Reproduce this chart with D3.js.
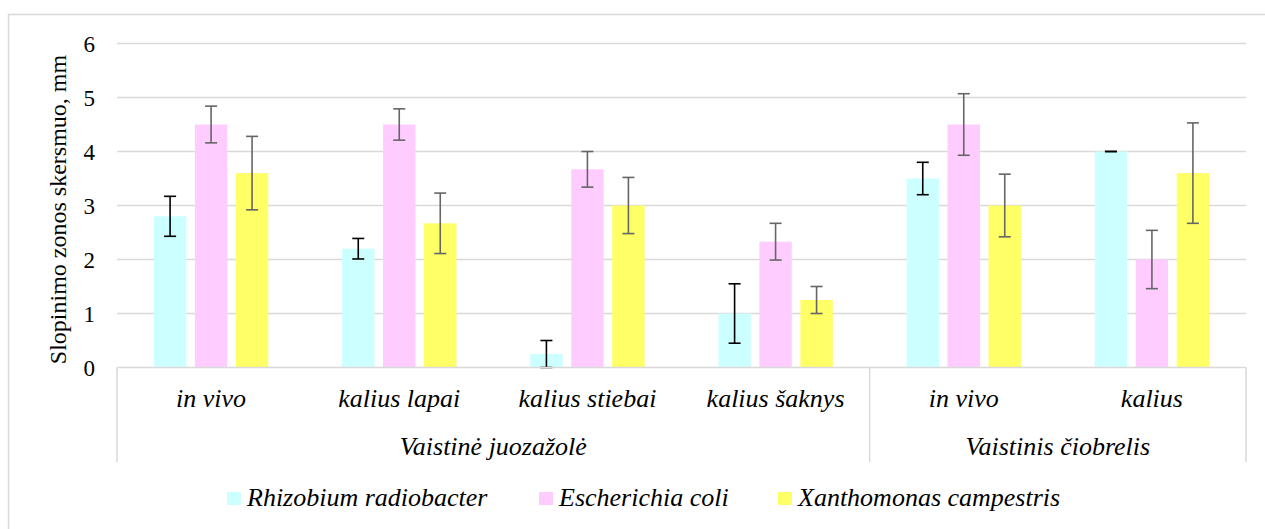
<!DOCTYPE html>
<html><head><meta charset="utf-8">
<script src="https://cdn.jsdelivr.net/npm/d3@7"></script>
<style>body{margin:0;background:#fff;} svg{display:block;}</style>
</head><body>
<svg id="chart" width="1265" height="529"></svg>
<script>
const categories = ["in vivo", "kalius lapai", "kalius stiebai", "kalius šaknys", "in vivo", "kalius"];
const groups = [{name: "Vaistinė juozažolė", from: 0, to: 3}, {name: "Vaistinis čiobrelis", from: 4, to: 5}];
const seriesNames = ["Rhizobium radiobacter", "Escherichia coli", "Xanthomonas campestris"];
const rhizobium = [2.8, 2.2, 0.25, 1.0, 3.5, 4.0];
const rhizobiumErr = [0.37, 0.19, 0.25, 0.55, 0.3, 0.0];
const ecoli = [4.5, 4.5, 3.67, 2.33, 4.5, 2.0];
const ecoliErr = [0.34, 0.29, 0.33, 0.34, 0.57, 0.54];
const xanthomonas = [3.6, 2.67, 3.0, 1.25, 3.0, 3.6];
const xanthomonasErr = [0.68, 0.56, 0.52, 0.25, 0.58, 0.93];
const yTicks = [0, 1, 2, 3, 4, 5, 6];
const yTitle = "Slopinimo zonos skersmuo, mm";

(function () {
const colors = ["#CCFFFF", "#FFCCFF", "#FFFF66"];
const errColors = ["#000000", "#666666", "#666666"];
const values = [rhizobium, ecoli, xanthomonas];
const errs = [rhizobiumErr, ecoliErr, xanthomonasErr];
const FF = '"Liberation Serif", serif';

const svg = d3.select("#chart");
const grid = "#d9d9d9";

svg.append("rect").attr("x", 8.5).attr("y", 14.5).attr("width", 1300).attr("height", 600)
  .attr("fill", "#fff").attr("stroke", grid).attr("stroke-width", 1.5);

const pL = 117, pR = 1246, pT = 43.5, pB = 367.5;
const x = d3.scaleBand().domain(d3.range(categories.length)).range([pL, pR]).padding(0);
const xs = d3.scaleBand().domain(d3.range(3)).range([0, x.bandwidth()]).paddingInner(0.21).paddingOuter(0.9);
const y = d3.scaleLinear().domain([0, 6]).range([pB, pT]);

svg.append("g").selectAll("line").data(yTicks.filter(t => t > 0)).join("line")
  .attr("x1", pL).attr("x2", pR).attr("y1", d => y(d)).attr("y2", d => y(d))
  .attr("stroke", grid).attr("stroke-width", 1.5);

const yAxis = d3.axisLeft(y).tickValues(yTicks).tickSize(0).tickPadding(0).tickFormat(d3.format("d"));
const ya = svg.append("g").attr("transform", `translate(95,0)`).call(yAxis);
ya.select(".domain").remove();
ya.attr("font-family", null).attr("font-size", null);
ya.selectAll("text").style("font-family", FF).style("font-size", "23px").attr("fill", "#000").attr("dy", "0.34em");

svg.append("text").attr("transform", `translate(66,${(pT+pB)/2 + 4}) rotate(-90)`)
  .attr("text-anchor", "middle").style("font-family", FF).style("font-size", "24px").attr("fill", "#000").text(yTitle);

const barData = [];
values.forEach((arr, s) => arr.forEach((v, i) => barData.push({s, i, v, e: errs[s][i]})));
svg.append("g").selectAll("rect").data(barData).join("rect")
  .attr("x", d => x(d.i) + xs(d.s)).attr("width", xs.bandwidth())
  .attr("y", d => y(d.v)).attr("height", d => y(0) - y(d.v))
  .attr("fill", d => colors[d.s]);

const eg = svg.append("g").selectAll("g").data(barData).join("g")
  .attr("stroke", d => errColors[d.s]).attr("stroke-width", 1.6);
const cx = d => x(d.i) + xs(d.s) + xs.bandwidth() / 2;
eg.append("line").attr("x1", cx).attr("x2", cx).attr("y1", d => y(d.v + d.e)).attr("y2", d => y(Math.max(0, d.v - d.e)));
eg.append("line").attr("x1", d => cx(d) - 6).attr("x2", d => cx(d) + 6).attr("y1", d => y(d.v + d.e)).attr("y2", d => y(d.v + d.e));
eg.append("line").attr("x1", d => cx(d) - 6).attr("x2", d => cx(d) + 6).attr("y1", d => y(Math.max(0, d.v - d.e))).attr("y2", d => y(Math.max(0, d.v - d.e)));

svg.append("line").attr("x1", pL).attr("x2", pR).attr("y1", pB).attr("y2", pB).attr("stroke", grid).attr("stroke-width", 1.5);
const sepIdx = [0, 4, 6];
svg.append("g").selectAll("line").data(sepIdx).join("line")
  .attr("x1", d => d < categories.length ? x(d) : pR).attr("x2", d => d < categories.length ? x(d) : pR)
  .attr("y1", pB).attr("y2", 462).attr("stroke", grid).attr("stroke-width", 1.5);

svg.append("g").selectAll("text").data(categories).join("text")
  .attr("x", (d, i) => x(i) + x.bandwidth() / 2).attr("y", 407)
  .attr("text-anchor", "middle").style("font-family", FF).style("font-style", "italic").style("font-size", "26px").attr("fill", "#000")
  .text(d => d);

svg.append("g").selectAll("text").data(groups).join("text")
  .attr("x", d => (x(d.from) + x(d.to) + x.bandwidth()) / 2).attr("y", 455)
  .attr("text-anchor", "middle").style("font-family", FF).style("font-style", "italic").style("font-size", "26px").attr("fill", "#000")
  .text(d => d.name);

const legX = [227, 539, 778];
const lg = svg.append("g").selectAll("g").data(seriesNames).join("g")
  .attr("transform", (d, i) => `translate(${legX[i]},492)`);
lg.append("rect").attr("width", 14).attr("height", 13).attr("fill", (d, i) => colors[i]);
lg.append("text").attr("x", 20).attr("y", 14).style("font-family", FF).style("font-style", "italic").style("font-size", "26px").attr("fill", "#000").text(d => d);
})();
</script>
</body></html>
